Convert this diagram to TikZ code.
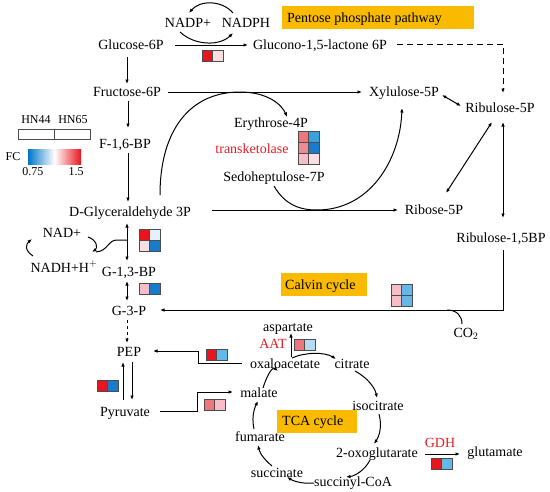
\documentclass[tikz,border=0pt]{standalone}
\usepackage{fontspec}
\setmainfont{Liberation Serif}
\usetikzlibrary{arrows.meta,calc}
\definecolor{orng}{RGB}{250,186,0}
\definecolor{redtxt}{RGB}{232,28,36}
\definecolor{cR}{RGB}{232,20,30}
\definecolor{cRp}{RGB}{240,118,126}
\definecolor{cRm}{RGB}{238,140,150}
\definecolor{cRl}{RGB}{247,190,200}
\definecolor{cRvl}{RGB}{251,222,226}
\definecolor{cB}{RGB}{24,124,204}
\definecolor{cBm}{RGB}{60,160,222}
\definecolor{cBl}{RGB}{100,184,232}
\definecolor{cBvl}{RGB}{182,220,243}
\definecolor{cBw}{RGB}{228,241,249}
\definecolor{gBlue}{RGB}{0,118,200}
\definecolor{gRed}{RGB}{232,20,30}
\newcommand\hcell[3]{\filldraw[hc,fill=#3] (#1,#2) rectangle ++(10.5,11);}
\begin{document}
\begin{tikzpicture}[x=1pt,y=-1pt,
  lbl/.style={font=\fontsize{14}{16}\selectfont, inner sep=1pt, text height=10pt, text depth=2pt},
  leg/.style={font=\fontsize{12}{14}\selectfont, inner sep=0pt},
  enz/.style={lbl, text=redtxt},
  hc/.style={draw=black!70, line width=0.5pt},
  ln/.style={line width=1pt},
  arr/.style={ln, -{Latex[length=4.5pt,width=3.5pt]}},
  darr/.style={ln, {Latex[length=4.5pt,width=3.5pt]}-{Latex[length=4.5pt,width=3.5pt]}},
  longdash/.style={dash pattern=on 6pt off 4pt},
  hbox/.style={fill=orng, draw=none}]
\useasboundingbox (0,0) rectangle (550,491);

% highlight boxes
\fill[hbox] (282,6) rectangle (474,29);
\node[lbl, anchor=west] (ppp) at (286,18) {Pentose phosphate pathway};
\fill[hbox] (281,273) rectangle (367,296);
\node[lbl, anchor=west] (calvin) at (284,285) {Calvin cycle};
\fill[hbox] (277,410) rectangle (357,433);
\node[lbl, anchor=west] (tca) at (281,421) {TCA cycle};

% metabolites
\node[lbl] (nadp) at (188,23) {NADP+};
\node[lbl] (nadph) at (246,23) {NADPH};
\node[lbl] (g6p) at (131,45) {Glucose-6P};
\node[lbl] (glc) at (320,45) {Glucono-1,5-lactone 6P};
\node[lbl] (f6p) at (127,92) {Fructose-6P};
\node[lbl] (xyl) at (404,92) {Xylulose-5P};
\node[lbl] (rib5) at (500,108) {Ribulose-5P};
\node[lbl] (f16) at (125,144) {F-1,6-BP};
\node[lbl] (ery) at (271,123) {Erythrose-4P};
\node[enz] (tk) at (252,149) {transketolase};
\node[lbl] (sed) at (274,177) {Sedoheptulose-7P};
\node[lbl] (dga) at (130,212) {D-Glyceraldehyde 3P};
\node[lbl] (r5p) at (434,210) {Ribose-5P};
\node[lbl] (rubp) at (501,238) {Ribulose-1,5BP};
\node[lbl] (nad) at (62,233) {NAD+};
\node[lbl] (nadh) at (64,268) {NADH+H$^{+}$};
\node[lbl] (g13) at (129,272) {G-1,3-BP};
\node[lbl] (g3p) at (129,311) {G-3-P};
\node[lbl] (co2) at (466,333) {CO$_{2}$};
\node[lbl] (pep) at (129,352) {PEP};
\node[lbl] (pyr) at (125,412) {Pyruvate};
\node[lbl] (asp) at (288,327) {aspartate};
\node[enz] (aat) at (273,344) {AAT};
\node[lbl] (oaa) at (285,364) {oxaloacetate};
\node[lbl] (cit) at (352,364) {citrate};
\node[lbl] (mal) at (259,393) {malate};
\node[lbl] (isoc) at (378,406) {isocitrate};
\node[lbl] (fum) at (260,437) {fumarate};
\node[enz] (gdh) at (440,443) {GDH};
\node[lbl] (oxo) at (377,453) {2-oxoglutarate};
\node[lbl] (glu) at (495,452) {glutamate};
\node[lbl] (suc) at (277,473) {succinate};
\node[lbl] (sca) at (353,482) {succinyl-CoA};

% legend
\node[leg] (hn44) at (36,120) {HN44};
\node[leg] (hn65) at (73,120) {HN65};
\draw[hc] (18,129) rectangle (90,139);
\draw[hc] (54,129) -- (54,139);
\node[leg] (fc) at (13,157) {FC};
\shade[left color=gBlue, right color=gRed, middle color=white] (28,149) rectangle (81,164);
\node[leg] (lo) at (33,172) {0.75};
\node[leg] (hi) at (76,172) {1.5};

% NADP cycle
\draw[arr] ($(nadph)+(-13,-10)$) .. controls ($(nadph)+(-24,-23)$) and ($(nadp)+(12,-23)$) .. ($(nadp)+(1,-10)$);
\draw[arr] ($(nadp)+(-8,9)$) .. controls ($(nadp)+(7,23)$) and ($(nadph)+(-26,23)$) .. ($(nadph)+(-13,10)$);

% glycolysis main axis
\draw[arr] ($(g6p)+(44,0)$) -- ($(glc)+(-72,0)$);
\draw[arr] ($(g6p)+(-4,12)$) -- ($(f6p)+(0,-8)$);
\draw[arr] ($(f6p)+(1,9)$) -- ($(f16)+(3,-16)$);
\draw[arr] ($(f16)+(3,9)$) -- ($(dga)+(-2,-10)$);
\draw[darr] ($(dga)+(-3,11)$) -- ($(g13)+(-2,-11)$);
\draw[darr] ($(g13)+(-2,9)$) -- ($(g3p)+(-2,-10)$);
\draw[arr, dashed] ($(g3p)+(-2,9)$) -- ($(pep)+(-2,-9)$);
\draw[arr] ($(pep)+(3,10)$) -- ($(pyr)+(7,-12)$);
\draw[arr] ($(pyr)+(-2,-12)$) -- ($(pep)+(-6,10)$);

% pentose phosphate
\draw[arr, longdash] ($(glc)+(77,-1)$) -| ($(rib5)+(3,-15)$);
\draw[arr] ($(f6p)+(41,0)$) -- ($(xyl)+(-42,0)$);
\draw[darr] ($(xyl)+(38,3)$) -- ($(rib5)+(-39,-2)$);
\draw[arr] ($(dga)+(82,-2)$) -- ($(r5p)+(-36,0)$);
\draw[darr] ($(rib5)+(-8,14)$) -- ($(r5p)+(12,-17)$);
\draw[darr] ($(rib5)+(3,14)$) -- ($(rubp)+(2,-20)$);
\draw[arr] ($(dga)+(30,-17)$) .. controls (160,130) and (190,92) .. (240,92)
  .. controls (268,92) and (282,105) .. ($(ery)+(16,-6)$);
\draw[arr] ($(sed)+(0,9)$) .. controls (285,205) and (300,210) .. (317,210)
  .. controls (370,210) and (400,160) .. ($(xyl)+(-2,16)$);

% Calvin cycle return
\coordinate (cc) at ($(rubp)+(2,72)$);
\draw[arr] ($(rubp)+(2,12)$) -- (cc) -- ($(g3p)+(31,-1)$);
\draw[ln] ($(co2)+(-19,-23)$) .. controls ($(co2)+(-9,-23)$) and ($(co2)+(-4,-17)$) .. ($(co2)+(-4,-9)$);

% NAD branch
\draw[arr] ($(nadh)+(-31,-12)$) .. controls ($(nadh)+(-40,-18)$) and ($(nad)+(-36,11)$) .. ($(nad)+(-30,6)$);
\draw[arr] ($(nad)+(26,4)$) .. controls ($(nad)+(35,7)$) and ($(nad)+(36,15)$) .. ($(nadh)+(28,-16)$);
\draw[ln] ($(dga)+(-3,28)$) -- ($(dga)+(-13,28)$) .. controls ($(dga)+(-22,28)$) and ($(dga)+(-22,39)$) .. ($(nadh)+(32,-16)$);

% PEP / pyruvate / TCA links
\draw[arr] ($(oaa)+(-43,-1)$) -- ($(oaa)+(-87,-1)$) |- ($(pep)+(24,-1)$);
\draw[arr] ($(pyr)+(35,-1)$) -- ($(pyr)+(72,-1)$) |- ($(mal)+(-26,-1)$);
\draw[arr] ($(oaa)+(6,-7)$) -- ($(asp)+(3,6)$);
\draw[arr] ($(oxo)+(48,1)$) -- ($(glu)+(-35,2)$);

% TCA cycle
\draw[arr] ($(mal)+(4,-5)$) .. controls ($(mal)+(7,-15)$) and ($(oaa)+(-13,2)$) .. ($(oaa)+(-7,7)$);
\draw[arr] ($(oaa)+(7,-6)$) .. controls ($(oaa)+(20,-12)$) and ($(cit)+(-27,-12)$) .. ($(cit)+(-16,-5)$);
\draw[arr] ($(cit)+(3,7)$) .. controls ($(cit)+(16,14)$) and ($(isoc)+(-3,-18)$) .. ($(isoc)+(-1,-8)$);
\draw[arr] ($(isoc)+(1,8)$) .. controls ($(isoc)+(4,19)$) and ($(oxo)+(3,-18)$) .. ($(oxo)+(-3,-9)$);
\draw[arr] ($(oxo)+(-7,7)$) .. controls ($(oxo)+(-12,17)$) and ($(sca)+(2,-6)$) .. ($(sca)+(-7,-5)$);
\draw[arr] ($(sca)+(-39,1)$) .. controls ($(sca)+(-48,2)$) and ($(suc)+(18,9)$) .. ($(suc)+(10,4)$);
\draw[arr] ($(suc)+(-5,-7)$) .. controls ($(suc)+(-12,-13)$) and ($(fum)+(0,17)$) .. ($(fum)+(-2,8)$);
\draw[arr] ($(fum)+(-6,-8)$) .. controls ($(fum)+(-8,-17)$) and ($(mal)+(-6,18)$) .. ($(mal)+(-1,8)$);

% heat cells
\hcell{202}{50}{cR}\hcell{212.5}{50}{cRvl}
\hcell{298}{131}{cRp}\hcell{308.5}{131}{cBm}
\hcell{298}{142}{cRm}\hcell{308.5}{142}{cB}
\hcell{298}{153}{cRl}\hcell{308.5}{153}{cRvl}
\hcell{139}{229}{cR}\hcell{149.5}{229}{cBw}
\hcell{139}{240}{cRvl}\hcell{149.5}{240}{cB}
\hcell{139}{283}{cRl}\hcell{149.5}{283}{cB}
\hcell{391}{284}{cRl}\hcell{401.5}{284}{cBl}
\hcell{391}{295}{cRl}\hcell{401.5}{295}{cBl}
\hcell{206}{349}{cR}\hcell{216.5}{349}{cBl}
\hcell{97}{380}{cR}\hcell{107.5}{380}{cB}
\hcell{204}{399}{cRp}\hcell{214.5}{399}{cRl}
\hcell{294}{339}{cRp}\hcell{304.5}{339}{cBvl}
\hcell{431}{458}{cR}\hcell{441.5}{458}{cBl}
\end{tikzpicture}
\end{document}
